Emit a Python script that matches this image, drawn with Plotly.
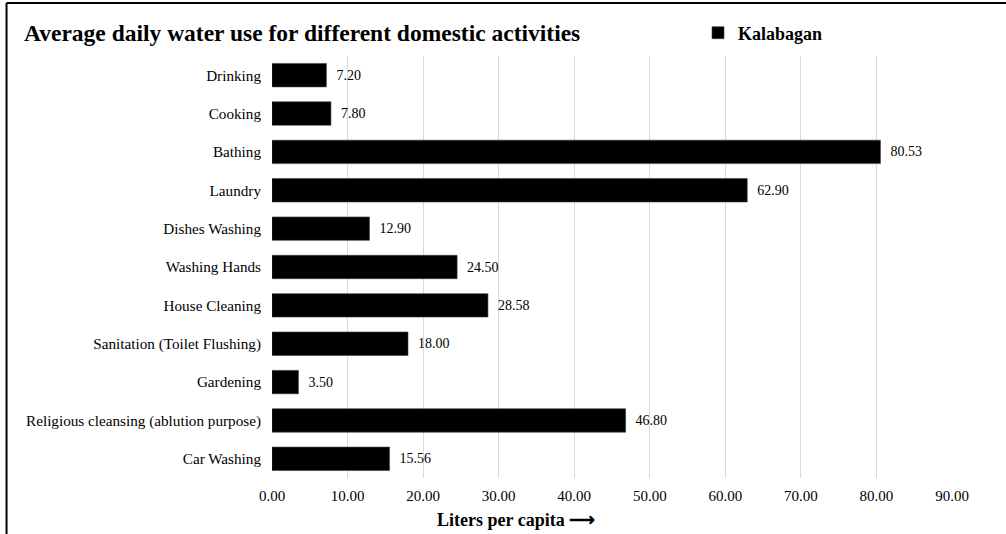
import plotly.graph_objects as go

# Domestic activities and average daily use (liters per capita)
activities = [
    "Drinking",
    "Cooking",
    "Bathing",
    "Laundry",
    "Dishes Washing",
    "Washing Hands",
    "House Cleaning",
    "Sanitation (Toilet Flushing)",
    "Gardening",
    "Religious cleansing (ablution purpose)",
    "Car Washing",
]
kalabagan = [7.20, 7.80, 80.53, 62.90, 12.90, 24.50, 28.58, 18.00, 3.50, 46.80, 15.56]
x_ticks = [0, 10, 20, 30, 40, 50, 60, 70, 80, 90]

FONT = "Liberation Serif"

fig = go.Figure(
    go.Bar(
        x=kalabagan,
        y=activities,
        orientation="h",
        name="Kalabagan",
        marker=dict(color="#000000", line=dict(color="#404040", width=0.6)),
        texttemplate="  %{x:.2f}",
        textposition="outside",
        textfont=dict(family=FONT, size=14, color="#000000"),
        cliponaxis=False,
    )
)

# outer frame (left and top edges)
L, T, R, B = -0.3904, 1.1256, 1.08, -0.135
fig.add_shape(type="line", xref="paper", yref="paper", x0=L, x1=L, y0=B, y1=T,
              line=dict(color="#000000", width=2))
fig.add_shape(type="line", xref="paper", yref="paper", x0=L, x1=R, y0=T, y1=T,
              line=dict(color="#000000", width=2))

fig.add_annotation(
    text="<b>Liters per capita ⟶</b>",
    xref="paper", yref="paper", x=0.3588, y=-0.0995,
    xanchor="center", yanchor="middle", showarrow=False,
    font=dict(family=FONT, size=18, color="#000000"),
)

fig.update_layout(
    width=1006,
    height=534,
    margin=dict(l=272, r=54, t=56, b=56, autoexpand=False),
    paper_bgcolor="#ffffff",
    plot_bgcolor="#ffffff",
    font=dict(family=FONT, size=15, color="#000000"),
    title=dict(
        text="<b>Average daily water use for different domestic activities</b>",
        xref="container", yref="container",
        x=24 / 1006, y=1 - 33 / 534,
        xanchor="left", yanchor="middle",
        font=dict(family=FONT, size=23.5, color="#000000"),
    ),
    showlegend=True,
    legend=dict(
        orientation="h",
        xref="container", yref="container",
        x=698 / 1006, y=1 - 33 / 534,
        xanchor="left", yanchor="middle",
        font=dict(family=FONT, size=18, color="#000000", weight="bold"),
        bgcolor="rgba(0,0,0,0)",
    ),
    bargap=0.39,
    xaxis=dict(
        range=[0, 90],
        tickvals=x_ticks,
        ticktext=[f"{v:.2f}" for v in x_ticks],
        showgrid=True,
        gridcolor="#d9d9d9",
        gridwidth=1,
        zeroline=False,
        showline=False,
        ticks="",
        ticklabelstandoff=7,
        tickfont=dict(family=FONT, size=15),
    ),
    yaxis=dict(
        categoryorder="array",
        categoryarray=activities,
        autorange="reversed",
        showgrid=False,
        zeroline=False,
        showline=False,
        ticks="",
        ticklabelstandoff=10,
        tickfont=dict(family=FONT, size=15.2),
    ),
)

fig.write_html("out.html")
